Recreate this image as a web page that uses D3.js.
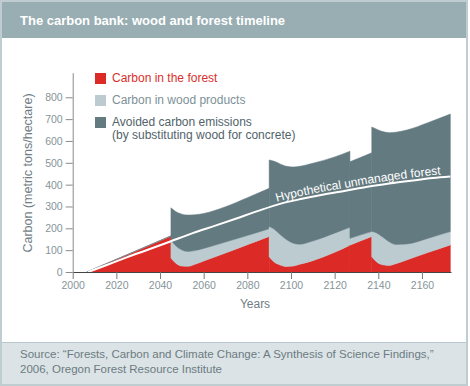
<!DOCTYPE html>
<html>
<head>
<meta charset="utf-8">
<script src="https://cdn.jsdelivr.net/npm/d3@7"></script>
<style>
  body { margin: 0; background: #fff; }
  svg { display: block; font-family: "Liberation Sans", Arial, sans-serif; }
</style>
</head>
<body>
<svg></svg>
<script>
// Data. A repeated year marks a jump (harvest / product retirement)
const years    = [2006.5, 2045,
                  2045, 2047, 2050, 2053, 2056, 2060, 2070, 2080, 2090,
                  2090, 2092, 2095, 2098, 2101, 2104, 2110, 2120, 2127,
                  2127, 2132, 2137,
                  2137, 2139, 2142, 2145, 2148, 2153, 2163, 2173];
const forest   = [0, 165,
                  64, 42, 27, 26, 35, 50, 87, 125, 163,
                  70, 48, 32, 25, 27, 35, 52, 90, 123,
                  123, 143, 163,
                  70, 48, 33, 30, 38, 55, 90, 124];
const products = [0, 0,
                  83, 80, 74, 68, 63, 58, 50, 42, 35,
                  138, 150, 140, 123, 105, 92, 90, 88, 82,
                  31, 27, 22,
                  116, 132, 127, 108, 88, 73, 65, 61];
const avoided  = [0, 0,
                  147, 156, 164, 167, 164, 160, 162, 173, 185,
                  305, 310, 323, 336, 349, 357, 356, 349, 348,
                  351, 355, 361,
                  478, 475, 483, 500, 514, 522, 530, 538];

const unmanagedYears  = [2007, 2015, 2025, 2035, 2045, 2055, 2065, 2075, 2085, 2095,
                         2105, 2115, 2125, 2135, 2145, 2155, 2165, 2173];
const unmanagedValues = [0, 30, 68, 104, 141, 178, 211, 245, 280, 312,
                         335, 355, 372, 390, 405, 418, 430, 437];

const xTicks = [2000, 2020, 2040, 2060, 2080, 2100, 2120, 2140, 2160];
const yTicks = [0, 100, 200, 300, 400, 500, 600, 700, 800];

const seriesKeys = ["forest", "products", "avoided"];
const legendLabels = [
  ["Carbon in the forest"],
  ["Carbon in wood products"],
  ["Avoided carbon emissions", "(by substituting wood for concrete)"]
];

// Configuration
const W = 470, H = 386;
const colors = { forest: "#dc2a27", products: "#bccbd0", avoided: "#637a80" };
const textColors = ["#d8302c", "#7d9197", "#52636a"];

const svg = d3.select("svg").attr("width", W).attr("height", H);

// frame, header, footer
svg.append("rect").attr("x", 0).attr("y", 0).attr("width", W).attr("height", H).attr("fill", "#fff");
svg.append("rect").attr("x", 0).attr("y", 0).attr("width", 468).attr("height", 38).attr("fill", "#98aeb3");
svg.append("rect").attr("x", 0).attr("y", 342).attr("width", 468).attr("height", 44).attr("fill", "#dbe3e6");
svg.append("line").attr("x1", 0).attr("x2", 468).attr("y1", 342.5).attr("y2", 342.5).attr("stroke", "#b7c7cb");
svg.append("rect").attr("x", 1).attr("y", 1).attr("width", 466).attr("height", 384)
  .attr("fill", "none").attr("stroke", "#bfcdd1").attr("stroke-width", 2);

svg.append("text").attr("x", 20).attr("y", 25)
  .attr("fill", "#fff").attr("font-size", "13px").attr("font-weight", "bold")
  .text("The carbon bank: wood and forest timeline");

svg.append("text").attr("x", 20).attr("y", 358)
  .attr("fill", "#6c7b81").attr("font-size", "11.5px")
  .text("Source: \u201cForests, Carbon and Climate Change: A Synthesis of Science Findings,\u201d");
svg.append("text").attr("x", 20).attr("y", 373)
  .attr("fill", "#6c7b81").attr("font-size", "11.5px")
  .text("2006, Oregon Forest Resource Institute");

// Scales
const x = d3.scaleLinear().domain([2000, 2173.3]).range([72.7, 451]);
const y = d3.scaleLinear().domain([0, 912.6]).range([272, 72.7]);

// build rows, split into segments wherever a year repeats
const rows = years.map((yr, i) => ({ year: yr, forest: forest[i], products: products[i], avoided: avoided[i] }));
const segments = [];
rows.forEach((r, i) => {
  if (i === 0 || r.year === rows[i - 1].year) segments.push([]);
  segments[segments.length - 1].push(r);
});

const stack = d3.stack().keys(seriesKeys);
const area = d3.area()
  .x((d) => x(d.data.year))
  .y0((d) => y(d[0]))
  .y1((d) => y(d[1]))
  .curve(d3.curveMonotoneX);

const plot = svg.append("g");
segments.forEach((seg) => {
  stack(seg).forEach((layer) => {
    plot.append("path")
      .attr("d", area(layer))
      .attr("fill", colors[layer.key])
      .attr("stroke", colors[layer.key])
      .attr("stroke-width", 0.5);
  });
});

// hypothetical unmanaged forest
const unmanaged = unmanagedYears.map((yr, i) => ({ year: yr, value: unmanagedValues[i] }));
const line = d3.line().x((d) => x(d.year)).y((d) => y(d.value)).curve(d3.curveMonotoneX);
svg.append("path").attr("d", line(unmanaged))
  .attr("fill", "none").attr("stroke", "#fff").attr("stroke-width", 2);

const labelLine = d3.line().x((d) => x(d.year)).y((d) => y(d.value) - 3).curve(d3.curveMonotoneX);
const labelPath = svg.append("defs").append("path")
  .attr("id", "unmanagedPath").attr("d", labelLine(unmanaged));
const node = labelPath.node();
const total = node.getTotalLength();
let offset = 0;
while (offset < total && node.getPointAtLength(offset).x < x(2093.5)) offset += 0.5;

svg.append("text")
  .attr("fill", "#fff").attr("font-size", "12px")
  .append("textPath")
  .attr("href", "#unmanagedPath")
  .attr("startOffset", offset)
  .text("Hypothetical unmanaged forest");

// Axes
const xAxis = svg.append("g")
  .attr("transform", `translate(0, ${y(0)})`)
  .call(d3.axisBottom(x).tickValues(xTicks).tickFormat(d3.format("d")).tickSize(7).tickSizeOuter(0).tickPadding(3));
xAxis.select(".domain").attr("stroke", "#444").attr("stroke-width", 1.2);
xAxis.selectAll(".tick line").attr("stroke", "#7a7a7a");
xAxis.selectAll(".tick text").attr("fill", "#869499").attr("font-size", "10.5px").attr("font-family", null);

const yAxis = svg.append("g")
  .attr("transform", `translate(${x(2000)}, 0)`)
  .call(d3.axisLeft(y).tickValues(yTicks).tickSize(7).tickSizeOuter(0).tickPadding(3));
yAxis.select(".domain").attr("stroke", "#8a8a8a");
yAxis.selectAll(".tick line").attr("stroke", "#8a8a8a");
yAxis.selectAll(".tick text").attr("fill", "#869499").attr("font-size", "10.5px").attr("font-family", null);
xAxis.raise();

svg.append("text")
  .attr("x", 255).attr("y", 308)
  .attr("text-anchor", "middle")
  .attr("fill", "#6f7e84").attr("font-size", "12px")
  .text("Years");

svg.append("text")
  .attr("transform", "rotate(-90)")
  .attr("x", -173).attr("y", 32)
  .attr("text-anchor", "middle")
  .attr("fill", "#6f7e84").attr("font-size", "12.5px")
  .text("Carbon (metric tons/hectare)");

// Legend
const legend = svg.append("g").attr("transform", "translate(95, 73)");
legend.selectAll(".legend-item")
  .data(seriesKeys)
  .enter()
  .append("g")
  .attr("class", "legend-item")
  .attr("transform", (d, i) => `translate(0, ${i * 22})`)
  .each(function (d, i) {
    d3.select(this).append("rect")
      .attr("width", 11).attr("height", 11)
      .attr("fill", colors[d]);
    legendLabels[i].forEach((t, j) => {
      d3.select(this).append("text")
        .attr("x", 17).attr("y", 9 + j * 12.5)
        .attr("font-size", "12px")
        .attr("fill", textColors[i])
        .text(t);
    });
  });
</script>
</body>
</html>
